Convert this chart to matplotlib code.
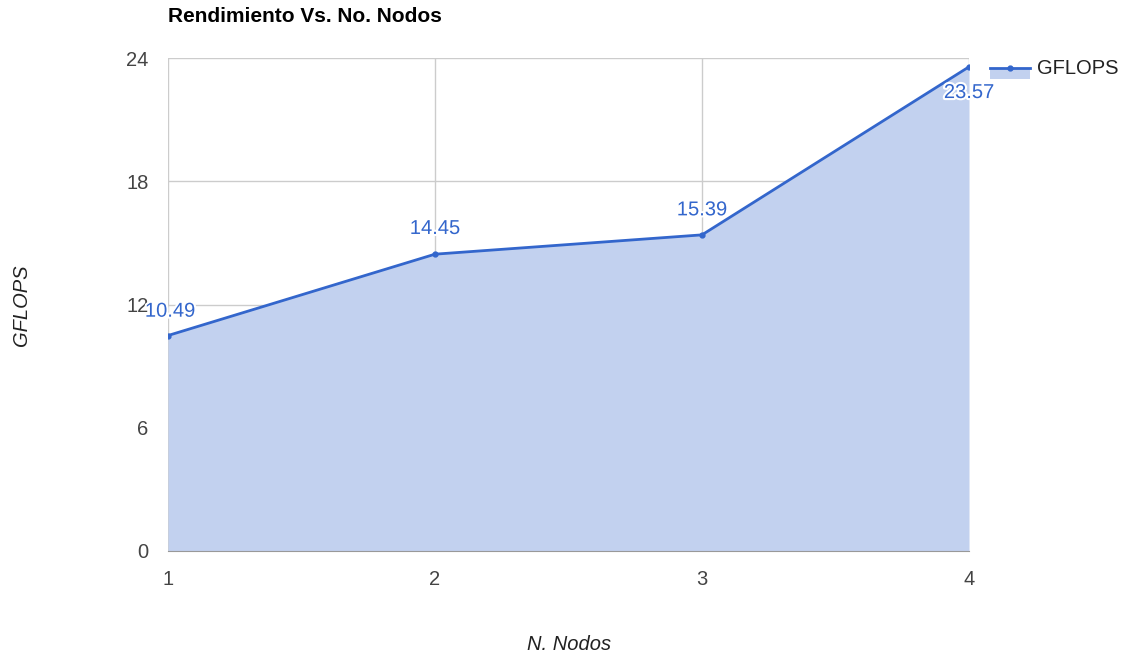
import matplotlib
matplotlib.use("Agg")
import matplotlib.pyplot as plt
import matplotlib.patheffects as pe
from matplotlib.lines import Line2D
from matplotlib.patches import Rectangle

plt.rcParams['font.family'] = ['Liberation Sans', 'DejaVu Sans']

nodos = [1, 2, 3, 4]
gflops = [10.49, 14.45, 15.39, 23.57]
yticks = [0, 6, 12, 18, 24]
series_name = "GFLOPS"

line_c = "#3366cc"
fill_c = "#c2d1ef"

fig = plt.figure(figsize=(11.36, 6.57), dpi=100)
ax = fig.add_axes([168/1136, 1-551/657, (969-168)/1136, (551-58)/657])

ax.fill_between(nodos, gflops, 0, color=fill_c, lw=0, zorder=1)
ax.plot(nodos, gflops, color=line_c, lw=2, marker='o', ms=3.5, zorder=3)

ax.set_xlim(1, 4)
ax.set_ylim(0, 24)
ax.set_xticks(nodos)
ax.set_yticks(yticks)
ax.grid(True, color="#cccccc", lw=1, zorder=0)
ax.set_axisbelow(True)
for s in ['top', 'right', 'left']:
    ax.spines[s].set_visible(False)
ax.spines['bottom'].set_color("#999999")
ax.tick_params(length=0, labelsize=14.5, colors="#444444")
ax.tick_params(axis='x', pad=14)
ax.tick_params(axis='y', pad=14)

# data labels (offsets in points)
offsets = [(1.5, 17.5), (0, 18.5), (0, 18), (0, -18.5)]
for x, y, (dx, dy) in zip(nodos, gflops, offsets):
    ax.annotate(f"{y:.2f}", (x, y), xytext=(dx, dy), textcoords='offset points',
                ha='center', va='center', fontsize=14.5, color=line_c, zorder=4,
                path_effects=[pe.withStroke(linewidth=3, foreground='white')],
                annotation_clip=False)

fig.text(168/1136, 1-17/657, "Rendimiento Vs. No. Nodos", fontsize=15,
         fontweight='bold', ha='left', va='center', color="#000000")
fig.text(569/1136, 1-645/657, "N. Nodos", fontsize=14.5, style='italic',
         ha='center', va='center', color="#222222")
fig.text(22/1136, 1-305/657, "GFLOPS", fontsize=14.5, style='italic',
         ha='center', va='center', rotation=90, color="#222222")

# legend
lx0, lx1, ly = 990/1136, 1030/1136, 1-68/657
fig.add_artist(Rectangle((lx0, 1-79/657), lx1-lx0, 11/657, transform=fig.transFigure,
                         facecolor=fill_c, edgecolor='none'))
fig.add_artist(Line2D([lx0, lx1], [ly, ly], transform=fig.transFigure,
                      color=line_c, lw=2))
fig.add_artist(Line2D([(lx0+lx1)/2], [ly], transform=fig.transFigure,
                      color=line_c, marker='o', ms=3.5, lw=0))
fig.text(1037/1136, ly, series_name, fontsize=14.5, ha='left', va='center',
         color="#222222")

fig.savefig("out.png", dpi=100)
